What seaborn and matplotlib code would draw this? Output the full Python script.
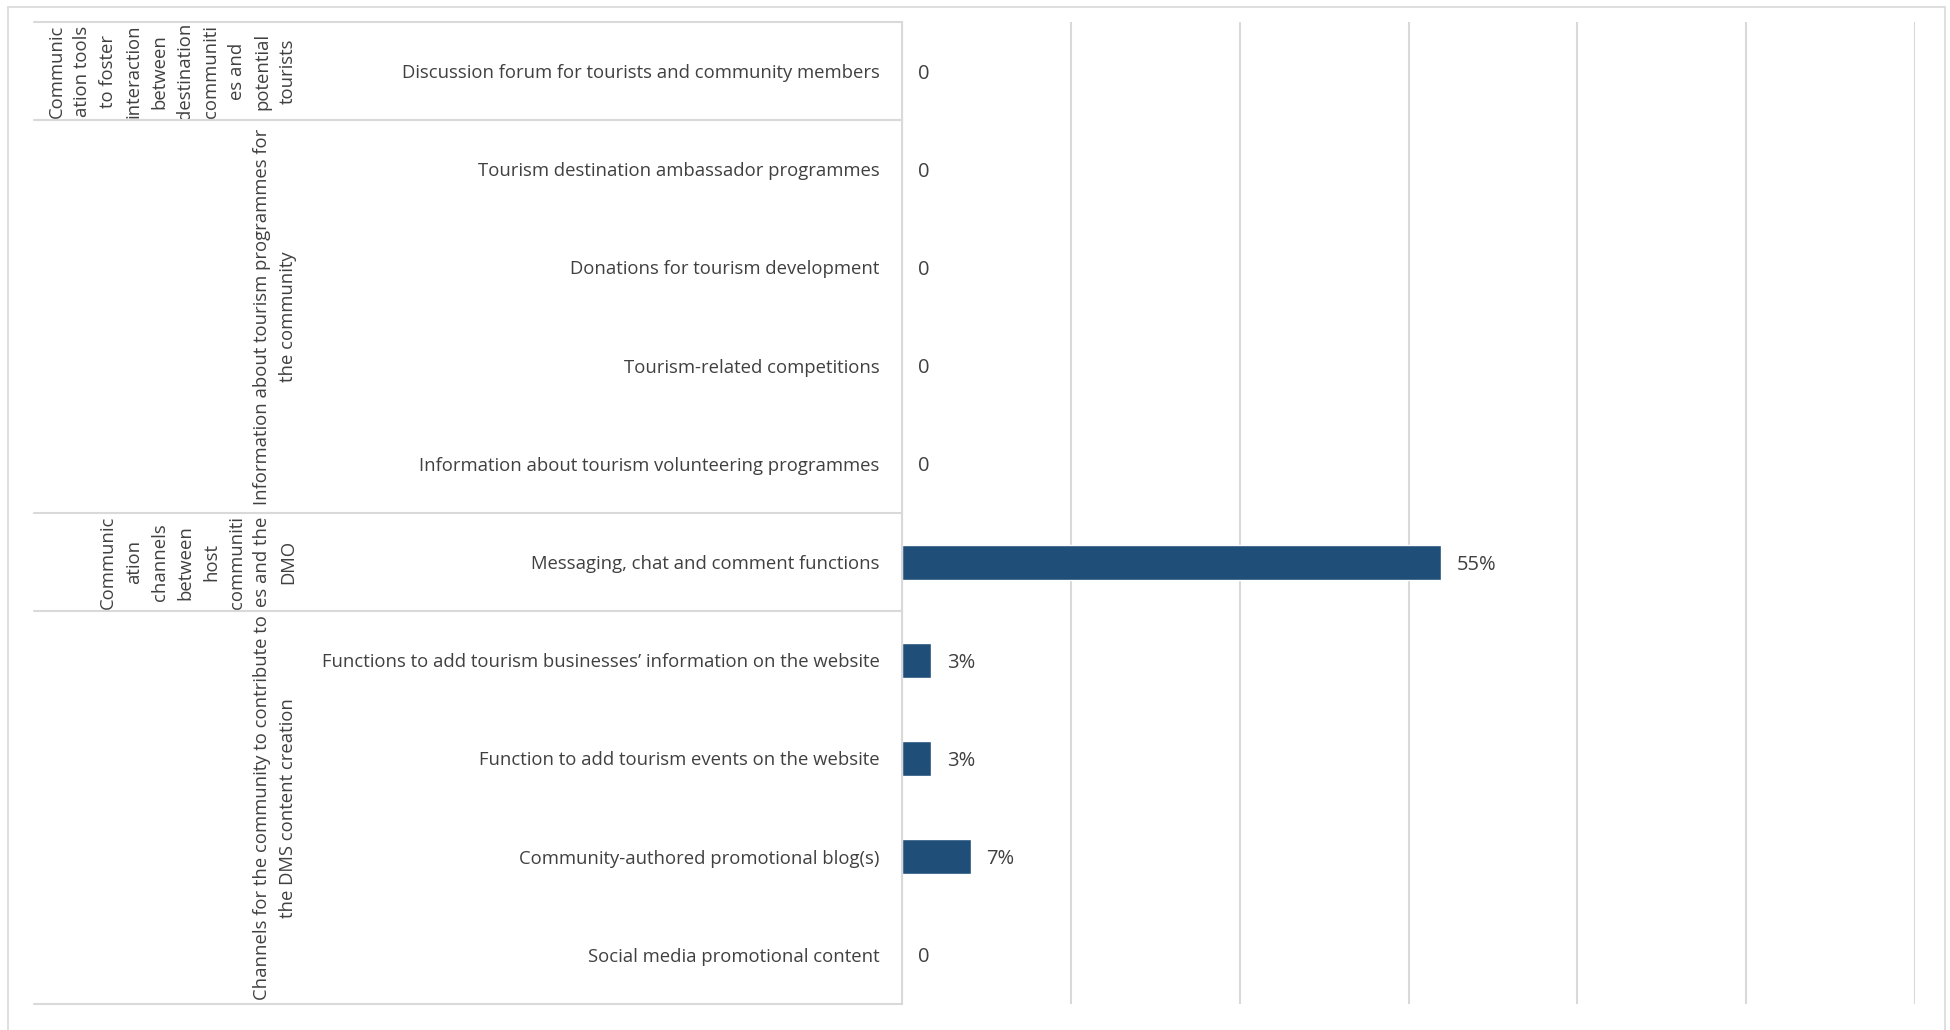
import numpy as np
import pandas as pd
import matplotlib
matplotlib.use("Agg")
import matplotlib.pyplot as plt
import seaborn as sns
from matplotlib.lines import Line2D
from matplotlib.transforms import blended_transform_factory

# ---------------- data ----------------
categories = [
    "Discussion forum for tourists and community members",
    "Tourism destination ambassador programmes",
    "Donations for tourism development",
    "Tourism-related competitions",
    "Information about tourism volunteering programmes",
    "Messaging, chat and comment functions",
    "Functions to add tourism businesses\u2019 information on the website",
    "Function to add tourism events on the website",
    "Community-authored promotional blog(s)",
    "Social media promotional content",
]
values = [0, 0, 0, 0, 0, 0.55, 0.03, 0.03, 0.07, 0]

group_labels = [
    "Communic\nation tools\nto foster\ninteraction\nbetween\ndestination\ncommuniti\nes and\npotential\ntourists",
    "Information about tourism programmes for\nthe community",
    "Communic\nation\nchannels\nbetween\nhost\ncommuniti\nes and the\nDMO",
    "Channels for the community to contribute to\nthe DMS content creation",
]
group_sizes = [1, 4, 1, 4]

# ---------------- style ----------------
W, H = 1950, 1030
sns.set_theme(style="white")
plt.rcParams["font.family"] = ["Open Sans", "DejaVu Sans"]
TXT = "#404040"
LINE = "#d9d9d9"
BAR = "#1f4e79"
FS = 13.3
FS_VAL = 14.5

fig = plt.figure(figsize=(W / 100, H / 100), dpi=100)
ax_left, ax_right, ax_top, ax_bot = 902, 1915, 22, 1004
ax = fig.add_axes([ax_left / W, 1 - ax_bot / H, (ax_right - ax_left) / W, (ax_bot - ax_top) / H])

df = pd.DataFrame({"category": categories, "value": values})
sns.barplot(data=df, x="value", y="category", color=BAR, width=0.356,
            saturation=1, ax=ax, orient="h")

xmax = 1.034
ax.set_xlim(0, xmax)
ax.set_ylim(len(categories) - 0.5, -0.5)
ax.set_xticks(np.linspace(0, xmax, 7))
ax.set_xticklabels([])
ax.set_xlabel("")
ax.set_ylabel("")
ax.grid(axis="x", color=LINE, linewidth=1.5)
ax.grid(axis="y", visible=False)
ax.tick_params(axis="both", length=0)
ax.tick_params(axis="y", pad=16, labelsize=FS, labelcolor=TXT)
for s in ["top", "right", "bottom"]:
    ax.spines[s].set_visible(False)
ax.spines["left"].set_color(LINE)
ax.spines["left"].set_linewidth(1.5)

# value labels
for i, v in enumerate(values):
    lab = "0" if v == 0 else f"{v:.0%}"
    ax.annotate(lab, xy=(v, i), xytext=(11.5, 0), textcoords="offset points",
                ha="left", va="center_baseline", fontsize=FS_VAL, color=TXT)

# group labels and separator lines
tr = blended_transform_factory(fig.transFigure, ax.transData)
start = -0.5
bounds = [start]
for lab, n in zip(group_labels, group_sizes):
    end = start + n
    ax.text(297 / W, (start + end) / 2, lab, transform=tr, rotation=90,
            ha="right", va="center", multialignment="center",
            fontsize=FS, color=TXT, linespacing=1.55)
    bounds.append(end)
    start = end
for b in bounds:
    fig.add_artist(Line2D([34 / W, ax_left / W], [b, b], transform=tr,
                          color=LINE, linewidth=1.5, clip_on=False))

# outer chart border (left, top, right)
fig.add_artist(Line2D([8 / W, 8 / W], [0, 1 - 7 / H], color=LINE, linewidth=1.2))
fig.add_artist(Line2D([8 / W, 1945 / W], [1 - 7 / H, 1 - 7 / H], color=LINE, linewidth=1.2))
fig.add_artist(Line2D([1945 / W, 1945 / W], [0, 1 - 7 / H], color=LINE, linewidth=1.2))

fig.savefig("out.png", dpi=100, facecolor="white")
